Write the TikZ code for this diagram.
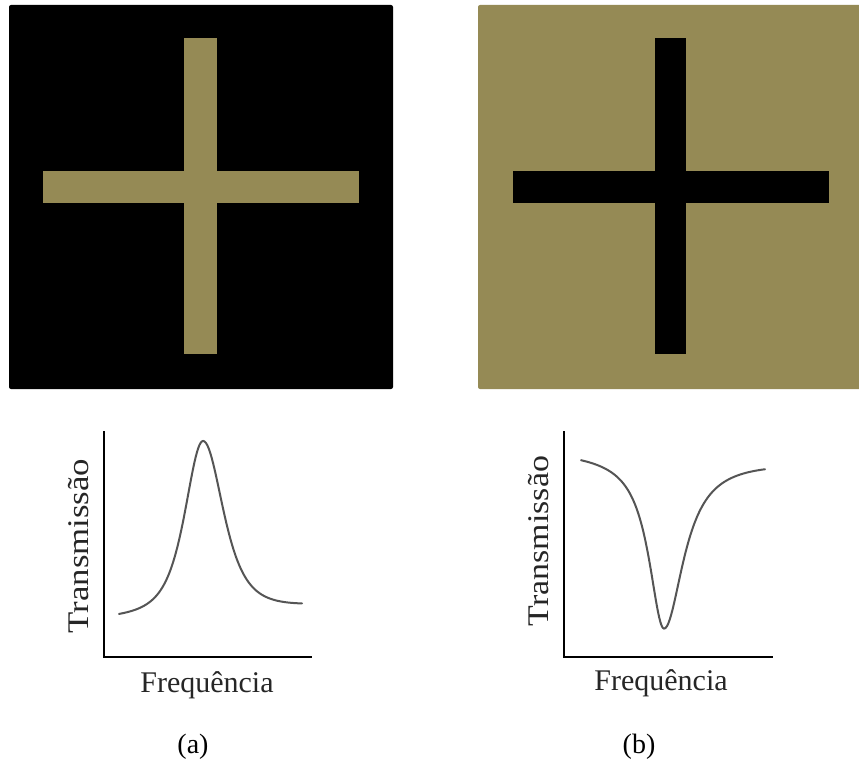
\documentclass[tikz,border=0pt]{standalone}
\usepackage{fontspec}
\setmainfont{Liberation Serif}
\definecolor{olive}{RGB}{149,138,85}
\definecolor{curvegray}{RGB}{85,85,85}
\begin{document}
\begin{tikzpicture}[x=1pt,y=-1pt,
  panel/.style={rounded corners=2pt},
  axis/.style={line width=1.6pt,black},
  curve/.style={line width=2pt,curvegray,line join=round,line cap=round},
  axlabel/.style={font=\fontsize{30}{30}\selectfont,text=black!85,inner sep=0pt},
  caption/.style={font=\fontsize{28}{28}\selectfont,inner sep=0pt}]
\useasboundingbox (0,0) rectangle (859,773);
\fill[white] (0,0) rectangle (859,773);
% left panel
\fill[black,panel] (9,5) rectangle (393,389);
\fill[olive] (184,38) rectangle (217,354);
\fill[olive] (43,171) rectangle (359,203);
% right panel
\fill[olive,panel] (478,5) rectangle (862,389);
\fill[black] (655,38) rectangle (686,354);
\fill[black] (513,171) rectangle (829,203);
% left graph
\coordinate (ya) at (104,431);
\coordinate (oa) at (104,657);
\coordinate (xa) at (312,657);
\draw[axis] (ya) -- (oa) -- (xa);
\draw[curve] plot[domain=119:203,samples=70] (\x,{617-11*(\x-119)/183-171/(1+((\x-203)/33)^2)^2})
  -- plot[domain=203:302,samples=70] (\x,{617-11*(\x-119)/183-171/(1+((\x-203)/37)^2)^2});
\node[axlabel,rotate=90,xscale=1.16] (ta) at (79,546) {Transmissão};
\node[axlabel,anchor=base] (fa) at (207,692) {Frequência};
% right graph
\coordinate (yb) at (564,431);
\coordinate (ob) at (564,657);
\coordinate (xb) at (773,657);
\draw[axis] (yb) -- (ob) -- (xb);
\draw[curve] plot[domain=581:664,samples=70] (\x,{452+8*(\x-581)/184+173/(1+((\x-664)/18.5)^2)})
  -- plot[domain=664:765,samples=70] (\x,{452+8*(\x-581)/184+173/(1+((\x-664)/24)^2)});
\node[axlabel,rotate=90,xscale=1.13] (tb) at (539,541) {Transmissão};
\node[axlabel,anchor=base] (fb) at (661,690) {Frequência};
% captions
\node[caption] (ca) at (193,747) {(a)};
\node[caption] (cb) at (639,747) {(b)};
\end{tikzpicture}
\end{document}
